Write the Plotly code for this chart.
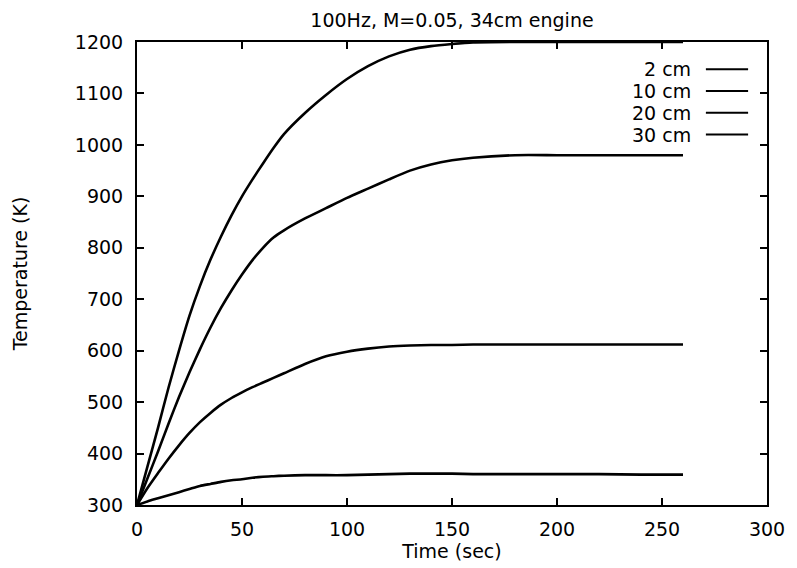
import plotly.graph_objects as go

# ---- data ----
time_s = [0, 5, 10, 15, 20, 25, 30, 35, 40, 45, 50, 55, 60, 65, 70, 80, 90, 100,
          110, 120, 130, 140, 150, 160, 180, 200, 220, 240, 260]
temp_2cm = [300, 375, 450, 528, 600, 668, 726, 777, 822, 863, 900, 933, 964, 994,
            1021, 1062, 1097, 1128, 1153, 1172, 1185, 1192, 1196, 1199, 1200, 1200,
            1200, 1200, 1200]
temp_10cm = [300, 352, 404, 458, 510, 558, 603, 645, 683, 717, 748, 776, 800, 820,
             834, 857, 877, 897, 915, 933, 950, 962, 970, 975, 980, 980, 980, 980, 980]
temp_20cm = [300, 333, 362, 390, 416, 440, 461, 479, 495, 508, 519, 529, 538, 547,
             556, 574, 589, 598, 604, 608, 610, 611, 611, 612, 612, 612, 612, 612, 612]
temp_30cm = [300, 307, 313, 319, 325, 331, 337, 341, 345, 348, 350, 353, 355, 356,
             357, 358, 358, 358, 359, 360, 361, 361, 361, 360, 360, 360, 360, 359, 359]
series_names = ["2 cm", "10 cm", "20 cm", "30 cm"]
series_values = [temp_2cm, temp_10cm, temp_20cm, temp_30cm]
x_ticks = [0, 50, 100, 150, 200, 250, 300]
y_ticks = [300, 400, 500, 600, 700, 800, 900, 1000, 1100, 1200]

FONT = "DejaVu Sans"
FS = 19

fig = go.Figure()
for name, vals in zip(series_names, series_values):
    fig.add_trace(go.Scatter(x=time_s, y=vals, mode="lines", name=name,
                             line=dict(color="black", width=2.6, shape="spline",
                                       smoothing=0.6),
                             showlegend=False))

# gnuplot-style key: text right-aligned, sample line to its right
key_top = 0.941
key_step = 0.047
for i, name in enumerate(series_names):
    yk = key_top - i * key_step
    fig.add_annotation(x=0.882, y=yk, xref="paper", yref="paper", text=name,
                       showarrow=False, xanchor="right", yanchor="middle",
                       font=dict(family=FONT, size=FS, color="black"))
    fig.add_shape(type="line", xref="paper", yref="paper", x0=0.903, x1=0.970,
                  y0=yk, y1=yk, line=dict(color="black", width=2))

axis_common = dict(showline=True, linecolor="black", linewidth=2, mirror="ticks",
                   ticks="inside", ticklen=7, tickwidth=2, tickcolor="black",
                   showgrid=False, zeroline=False,
                   tickfont=dict(family=FONT, size=FS, color="black"))

fig.update_xaxes(range=[0, 300], tickvals=x_ticks, ticktext=[str(v) for v in x_ticks],
                 title=dict(text="Time (sec)", font=dict(family=FONT, size=FS, color="black"),
                            standoff=3),
                 ticklabelstandoff=6, **axis_common)
fig.update_yaxes(range=[300, 1200], tickvals=y_ticks, ticktext=[str(v) for v in y_ticks],
                 title=dict(text="Temperature (K)", font=dict(family=FONT, size=FS, color="black"),
                            standoff=42),
                 ticklabelstandoff=8, **axis_common)

fig.update_layout(
    width=797, height=568,
    margin=dict(l=137, r=22, t=42, b=58),
    paper_bgcolor="white", plot_bgcolor="white",
    title=dict(text="100Hz, M=0.05, 34cm engine", x=0.5, xref="paper",
               y=1 - 20 / 568, yref="container", yanchor="middle", xanchor="center",
               font=dict(family=FONT, size=FS, color="black")),
    font=dict(family=FONT, size=FS, color="black"),
)

fig.write_html("out.html")
